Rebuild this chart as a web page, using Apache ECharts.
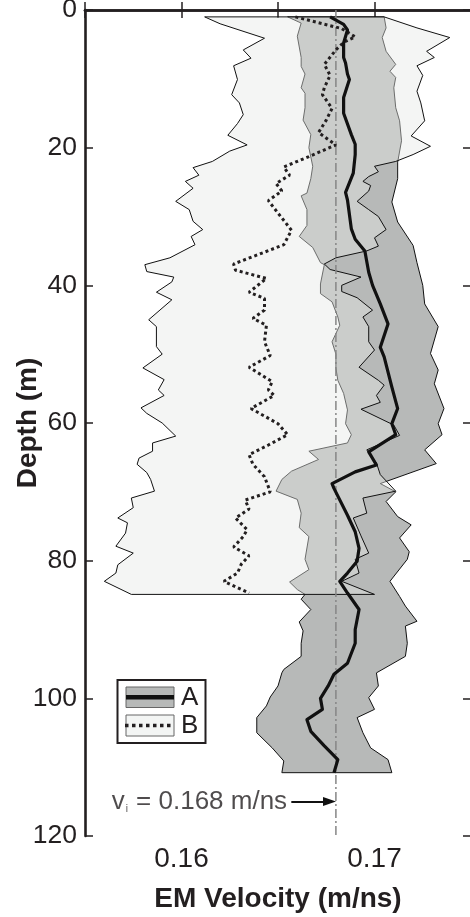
<!DOCTYPE html>
<html>
<head>
<meta charset="utf-8">
<script src="https://cdn.jsdelivr.net/npm/echarts@6/dist/echarts.min.js"></script>
<style>
html,body{margin:0;padding:0;background:#fff;}
#chart{width:470px;height:917px;}
</style>
</head>
<body>
<div id="chart"></div>
<script>
// ---- Data: [depth (m), EM velocity (m/ns)] ----
var bLeft = [[1.0,0.1612],[2.0,0.1620],[4.1,0.1643],[5.8,0.1632],[7.0,0.1636],[8.1,0.1627],[10.1,0.1629],[12.3,0.1626],[13.5,0.1630],[15.2,0.1632],[16.5,0.1629],[18.2,0.1624],[19.6,0.1634],[20.5,0.1625],[22.0,0.1616],[22.9,0.1606],[24.0,0.1609],[24.9,0.1602],[25.9,0.1606],[27.8,0.1597],[29.0,0.1604],[30.7,0.1606],[31.9,0.1611],[32.9,0.1605],[34.1,0.1607],[36.0,0.1594],[37.0,0.1581],[38.0,0.1582],[38.8,0.1596],[39.5,0.1595],[41.0,0.1587],[42.1,0.1595],[45.0,0.1583],[46.0,0.1587],[48.9,0.1587],[50.0,0.1590],[52.0,0.1580],[53.7,0.1591],[55.2,0.1588],[56.0,0.1591],[57.8,0.1579],[58.6,0.1582],[60.0,0.1590],[61.9,0.1597],[62.9,0.1585],[64.1,0.1585],[65.1,0.1578],[66.0,0.1577],[67.2,0.1582],[68.2,0.1584],[69.9,0.1586],[70.9,0.1574],[72.3,0.1575],[73.8,0.1567],[74.5,0.1572],[76.0,0.1571],[77.9,0.1566],[78.9,0.1575],[80.6,0.1567],[81.8,0.1566],[83.0,0.1560],[84.9,0.1574]];
var bRight = [[1.0,0.1705],[2.6,0.1722],[4.0,0.1739],[6.0,0.1727],[6.9,0.1731],[8.1,0.1722],[9.5,0.1725],[11.8,0.1722],[13.5,0.1724],[16.1,0.1726],[18.3,0.1719],[19.8,0.1729],[21.0,0.1720],[22.0,0.1711],[22.7,0.1700],[23.5,0.1702],[24.2,0.1697],[24.9,0.1694],[25.5,0.1698],[26.3,0.1697],[27.8,0.1691],[29.0,0.1697],[30.0,0.1702],[31.9,0.1706],[33.1,0.1700],[34.3,0.1702],[35.0,0.1696],[36.0,0.1680],[36.9,0.1674],[37.7,0.1677],[38.8,0.1693],[40.0,0.1683],[40.9,0.1683],[41.8,0.1691],[43.6,0.1699],[44.6,0.1694],[46.0,0.1697],[48.2,0.1697],[49.4,0.1700],[51.9,0.1692],[53.8,0.1702],[54.5,0.1705],[56.0,0.1701],[57.0,0.1703],[58.0,0.1693],[60.3,0.1710],[61.8,0.1713],[63.9,0.1696],[65.8,0.1701],[67.5,0.1703],[69.9,0.1711],[70.9,0.1694],[73.1,0.1696],[73.8,0.1689],[76.4,0.1693],[78.9,0.1697],[79.8,0.1690],[81.8,0.1692],[83.0,0.1683],[84.9,0.1700]];
var bMean = [[1.0,0.1659],[2.7,0.1683],[3.9,0.1690],[4.7,0.1684],[5.8,0.1680],[7.9,0.1674],[9.5,0.1677],[11.3,0.1674],[12.3,0.1673],[14.3,0.1678],[16.0,0.1675],[17.8,0.1671],[19.6,0.1680],[21.3,0.1666],[22.8,0.1653],[24.0,0.1656],[25.2,0.1649],[26.3,0.1652],[27.7,0.1645],[29.5,0.1650],[32.0,0.1657],[34.1,0.1653],[35.5,0.1640],[36.9,0.1627],[37.8,0.1628],[39.0,0.1644],[41.0,0.1635],[41.9,0.1643],[43.6,0.1643],[44.8,0.1637],[45.8,0.1644],[48.2,0.1643],[50.2,0.1646],[51.9,0.1635],[54.0,0.1647],[55.2,0.1645],[56.0,0.1648],[57.9,0.1636],[60.1,0.1650],[61.7,0.1655],[63.2,0.1645],[64.6,0.1635],[66.0,0.1637],[67.8,0.1643],[70.0,0.1646],[71.2,0.1633],[72.5,0.1635],[73.8,0.1628],[75.5,0.1634],[76.5,0.1632],[78.0,0.1627],[79.3,0.1635],[80.5,0.1631],[81.8,0.1629],[83.0,0.1622],[84.7,0.1635]];
var aLeft = [[1.0,0.1655],[1.9,0.1662],[3.8,0.1660],[6.9,0.1662],[8.2,0.1662],[9.3,0.1664],[11.3,0.1662],[12.1,0.1664],[14.2,0.1664],[16.0,0.1663],[18.1,0.1667],[20.0,0.1666],[22.7,0.1668],[24.5,0.1667],[26.6,0.1665],[27.0,0.1662],[29.0,0.1665],[31.3,0.1665],[32.9,0.1661],[34.5,0.1668],[36.7,0.1672],[37.0,0.1674],[39.8,0.1672],[41.2,0.1672],[42.4,0.1678],[44.6,0.1681],[45.8,0.1682],[48.2,0.1678],[50.0,0.1680],[52.0,0.1680],[53.8,0.1681],[55.7,0.1684],[58.1,0.1686],[60.1,0.1685],[61.7,0.1688],[62.9,0.1686],[64.1,0.1666],[65.3,0.1671],[67.0,0.1657],[68.2,0.1652],[69.9,0.1649],[71.1,0.1660],[73.1,0.1662],[75.2,0.1661],[76.5,0.1666],[79.8,0.1664],[81.3,0.1666],[83.1,0.1656],[84.2,0.1660],[84.9,0.1664],[85.6,0.1662],[87.1,0.1667],[88.9,0.1661],[90.2,0.1663],[92.0,0.1662],[93.9,0.1662],[95.8,0.1653],[96.3,0.1652],[98.2,0.1650],[99.8,0.1646],[101.1,0.1644],[102.8,0.1639],[105.0,0.1639],[107.2,0.1647],[109.1,0.1653],[110.8,0.1652]];
var aRight = [[1.0,0.1705],[2.6,0.1706],[4.0,0.1704],[6.0,0.1706],[7.9,0.1711],[8.9,0.1708],[9.8,0.1711],[11.3,0.1710],[14.2,0.1711],[16.1,0.1713],[19.0,0.1714],[22.1,0.1712],[24.5,0.1712],[27.9,0.1709],[30.8,0.1712],[34.2,0.1720],[36.7,0.1722],[40.0,0.1725],[42.7,0.1726],[46.0,0.1733],[49.9,0.1729],[52.3,0.1733],[54.3,0.1731],[57.9,0.1736],[60.1,0.1733],[61.7,0.1735],[63.9,0.1726],[65.9,0.1732],[68.8,0.1703],[70.0,0.1711],[71.4,0.1706],[73.6,0.1712],[74.8,0.1719],[76.7,0.1713],[78.7,0.1718],[79.8,0.1717],[83.0,0.1708],[85.2,0.1713],[86.6,0.1716],[88.8,0.1722],[89.5,0.1716],[92.0,0.1717],[93.9,0.1716],[96.3,0.1701],[98.2,0.1702],[99.9,0.1697],[101.6,0.1700],[102.8,0.1691],[105.0,0.1694],[107.2,0.1698],[108.9,0.1707],[110.8,0.1709]];
var aMean = [[1.0,0.1677],[2.1,0.1684],[2.9,0.1686],[4.8,0.1684],[6.9,0.1684],[7.7,0.1685],[9.3,0.1686],[10.1,0.1687],[12.7,0.1684],[15.0,0.1684],[18.1,0.1688],[19.5,0.1690],[21.0,0.1690],[23.7,0.1689],[26.5,0.1685],[27.6,0.1686],[31.8,0.1688],[33.3,0.1690],[35.0,0.1695],[38.1,0.1697],[40.0,0.1699],[42.7,0.1703],[45.6,0.1707],[49.0,0.1703],[50.4,0.1705],[54.8,0.1709],[57.9,0.1712],[60.1,0.1709],[61.7,0.1711],[64.2,0.1697],[66.1,0.1701],[67.1,0.1690],[68.8,0.1678],[69.5,0.1679],[73.4,0.1686],[75.8,0.1690],[78.2,0.1692],[80.1,0.1691],[81.8,0.1686],[83.0,0.1682],[84.7,0.1686],[87.1,0.1692],[90.0,0.1690],[92.0,0.1690],[94.9,0.1686],[96.5,0.1679],[98.2,0.1676],[100.0,0.1672],[101.6,0.1673],[103.1,0.1665],[104.8,0.1667],[106.9,0.1674],[108.9,0.1681],[110.8,0.1679]];
var viValue = 0.168;
var viDepths = [0, 120];
var viNoteDepth = 115;
var viNoteStart = 0.15638;
var viArrowStart = 0.16569;
var depthTicks = [0, 20, 40, 60, 80, 100, 120];
var velocityLabels = ['0.16', '0.17'];
var legendNames = ['A', 'B'];

var INK = '#231f20';
var FONT = "'Liberation Sans', Arial, Helvetica, sans-serif";

function toXY(arr) { return arr.map(function (p) { return [p[1], p[0]]; }); }

function band(left, right, fill, stroke, z) {
  return {
    type: 'custom', coordinateSystem: 'cartesian2d', silent: true, z: z,
    data: [[left[0][1], left[0][0]]],
    renderItem: function (params, api) {
      if (params.dataIndex !== 0) return;
      var pts = [];
      left.forEach(function (p) { pts.push(api.coord([p[1], p[0]])); });
      for (var i = right.length - 1; i >= 0; i--) pts.push(api.coord([right[i][1], right[i][0]]));
      return { type: 'polygon', shape: { points: pts }, style: { fill: fill, stroke: stroke, lineWidth: 1 } };
    }
  };
}

var chart = echarts.init(document.getElementById('chart'), null, { renderer: 'canvas' });

var axisLineStyle = { color: INK, width: 2.6 };
var tickStyle = { color: INK, width: 1.5 };

var option = {
  animation: false,
  backgroundColor: '#ffffff',
  textStyle: { fontFamily: FONT },
  grid: { left: 85, top: 10, width: 386, height: 826, containLabel: false, outerBoundsMode: 'none' },
  xAxis: [{
    type: 'value', position: 'bottom', min: 0.155, max: 0.175, interval: 0.005,
    axisLine: { show: true, lineStyle: axisLineStyle },
    axisTick: { show: true, inside: true, length: 8, lineStyle: tickStyle },
    splitLine: { show: false },
    axisLabel: {
      color: INK, fontSize: 28, fontFamily: FONT, margin: 9,
      formatter: function (v) {
        var s = v.toFixed(2);
        return (Math.abs(v * 100 - Math.round(v * 100)) < 1e-6 && velocityLabels.indexOf(s) >= 0) ? s : '';
      }
    },
    name: 'EM Velocity (m/ns)', nameLocation: 'middle', nameGap: 49, nameMoveOverlap: false,
    nameTextStyle: { color: INK, fontSize: 28, fontWeight: 'bold', fontFamily: FONT }
  }, {
    type: 'value', position: 'top', min: 0.155, max: 0.175, interval: 0.005,
    axisLine: { show: true, lineStyle: axisLineStyle },
    axisTick: { show: true, inside: true, length: 8, lineStyle: tickStyle },
    splitLine: { show: false }, axisLabel: { show: false }
  }],
  yAxis: [{
    type: 'value', position: 'left', inverse: true, min: 0, max: 120, interval: 20,
    axisLine: { show: true, lineStyle: axisLineStyle },
    axisTick: { show: true, inside: true, length: 8, lineStyle: tickStyle },
    splitLine: { show: false },
    axisLabel: { color: INK, fontSize: 26.5, fontFamily: FONT, margin: 8,
      formatter: function (v) { return depthTicks.indexOf(v) >= 0 ? String(v) : ''; } },
    name: 'Depth (m)', nameLocation: 'middle', nameGap: 43, nameRotate: 90, nameMoveOverlap: false,
    nameTextStyle: { color: INK, fontSize: 28, fontWeight: 'bold', fontFamily: FONT }
  }, {
    type: 'value', position: 'right', inverse: true, min: 0, max: 120, interval: 20,
    axisLine: { show: false },
    axisTick: { show: true, inside: true, length: 8, lineStyle: tickStyle },
    splitLine: { show: false }, axisLabel: { show: false }
  }],
  series: [
    band(aLeft, aRight, 'rgb(183,185,184)', '#111111', 1),
    band(bLeft, bRight, 'rgba(229,231,230,0.43)', '#111111', 2),
    {
      type: 'line', z: 3, silent: true, symbol: 'none',
      data: viDepths.map(function (d) { return [viValue, d]; }),
      lineStyle: { color: '#858585', width: 1.5, type: [9, 3, 2, 3] },
      markLine: {
        silent: true, symbol: ['none', 'triangle'], symbolSize: [9, 13], label: { show: false },
        lineStyle: { color: '#111', width: 1.8, type: 'solid' },
        data: [[{ coord: [viArrowStart, viNoteDepth] }, { coord: [viValue - 0.00033, viNoteDepth] }]]
      }
    },
    {
      type: 'line', z: 4, silent: true, symbol: 'none', data: toXY(bMean),
      lineStyle: { color: INK, width: 3, type: [3, 3], cap: 'butt' }
    },
    {
      type: 'line', z: 5, silent: true, symbol: 'none', data: toXY(aMean),
      lineStyle: { color: '#111111', width: 3.2, join: 'round' }
    },
    {
      type: 'scatter', z: 6, silent: true, symbolSize: 0,
      data: [[viNoteStart, viNoteDepth]],
      label: {
        show: true, position: 'right', distance: 0,
        formatter: '{v|v}{i|i}{t| = 0.168 m/ns}',
        rich: {
          v: { fontSize: 26, color: INK, fontFamily: FONT, lineHeight: 26 },
          i: { fontSize: 10, color: INK, fontFamily: FONT, lineHeight: 10, verticalAlign: 'bottom', padding: [0, 1, 0, 1] },
          t: { fontSize: 26, color: INK, fontFamily: FONT, lineHeight: 26 }
        }
      }
    }
  ],
  graphic: [
    { type: 'rect', shape: { x: 117.5, y: 680, width: 88, height: 63 }, style: { fill: '#fff', stroke: INK, lineWidth: 2 }, z: 10 },
    { type: 'rect', shape: { x: 126, y: 687, width: 48, height: 20.5 }, style: { fill: 'rgb(183,185,184)', stroke: '#666', lineWidth: 1 }, z: 11 },
    { type: 'line', shape: { x1: 126, y1: 697.3, x2: 174, y2: 697.3 }, style: { stroke: '#111', lineWidth: 4.5 }, z: 12 },
    { type: 'rect', shape: { x: 126, y: 715, width: 48, height: 21 }, style: { fill: '#f3f5f4', stroke: '#666', lineWidth: 1 }, z: 11 },
    { type: 'line', shape: { x1: 125, y1: 725.5, x2: 174, y2: 725.5 }, style: { stroke: INK, lineWidth: 3.5, lineDash: [3.5, 3.5] }, z: 12 },
    { type: 'text', x: 181, y: 697.5, style: { text: legendNames[0], fontSize: 26, fontFamily: FONT, fill: INK, verticalAlign: 'middle' }, z: 12 },
    { type: 'text', x: 181, y: 725.5, style: { text: legendNames[1], fontSize: 26, fontFamily: FONT, fill: INK, verticalAlign: 'middle' }, z: 12 }
  ]
};
chart.setOption(option);
</script>
</body>
</html>
